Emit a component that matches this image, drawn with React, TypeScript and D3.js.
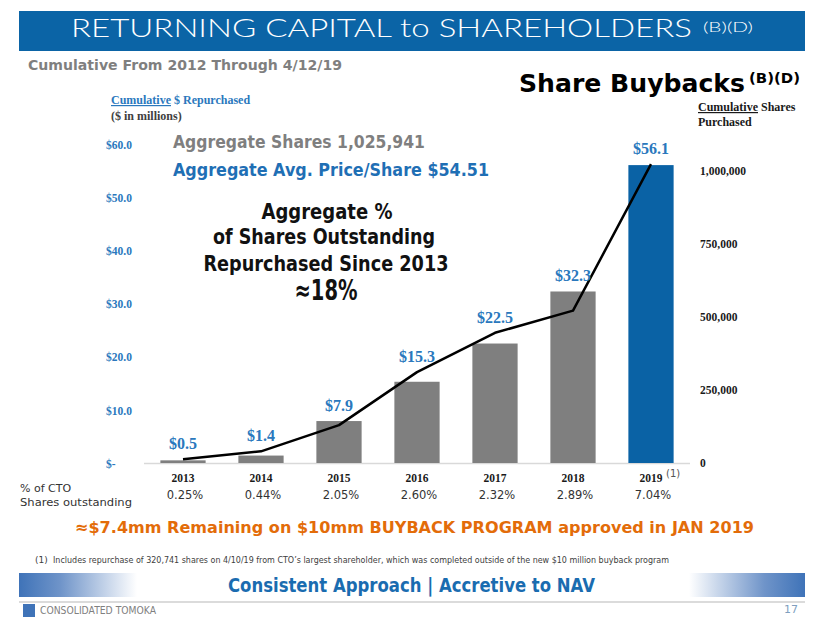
import React from "react";
import * as d3 from "d3";

const years = ["2013", "2014", "2015", "2016", "2017", "2018", "2019"];
const dollarsRepurchased = [0.5, 1.4, 7.9, 15.3, 22.5, 32.3, 56.1];
const cumulativeShares = [12500, 40000, 130000, 312000, 447000, 523000, 1025941];
const pctOutstanding = ["0.25%", "0.44%", "2.05%", "2.60%", "2.32%", "2.89%", "7.04%"];
const highlightYear = "2019";
const footnotedYear = "2019";
const leftTicks = [0, 10, 20, 30, 40, 50, 60];
const rightTicks = [0, 250000, 500000, 750000, 1000000];
const leftMax = 60;
const rightMax = 1100000;

const W = 824;
const H = 637;
const BLUE = "#0b64a6";
const LABEL_BLUE = "#2a78bd";
const GRAY_BAR = "#7f7f7f";
const SANS = "'DejaVu Sans', 'Open Sans', sans-serif";
const SERIF = "'Liberation Serif', 'Times New Roman', serif";

export default function App() {
  const x = d3.scaleBand<string>().domain(years).range([144, 690]).paddingInner(0.42).paddingOuter(0.21);
  const yL = d3.scaleLinear().domain([0, leftMax]).range([463, 144.4]);
  const yR = d3.scaleLinear().domain([0, rightMax]).range([463, 142.6]);
  const cx = (y: string) => (x(y) ?? 0) + x.bandwidth() / 2;
  const line = d3
    .line<number>()
    .x((_, i) => cx(years[i]))
    .y((d) => yR(d))(cumulativeShares);
  const fmtL = (v: number) => (v === 0 ? "$-" : `$${d3.format(".1f")(v)}`);
  const fmtR = d3.format(",");

  return (
    <svg width={W} height={H} style={{ position: "absolute", left: 0, top: 0, background: "#fff" }}>
      <defs>
        <linearGradient id="gl" x1="0" x2="1" y1="0" y2="0">
          <stop offset="0" stopColor="#3f73b8" />
          <stop offset="0.35" stopColor="#6f94c9" />
          <stop offset="1" stopColor="#ffffff" />
        </linearGradient>
        <linearGradient id="gr" x1="0" x2="1" y1="0" y2="0">
          <stop offset="0" stopColor="#ffffff" />
          <stop offset="0.65" stopColor="#6f94c9" />
          <stop offset="1" stopColor="#3f73b8" />
        </linearGradient>
      </defs>

      {/* title banner */}
      <rect x={19} y={11} width={786} height={40} fill={BLUE} />
      <text x={71} y={37} fill="#fff" fontFamily="Lato, 'DejaVu Sans', sans-serif" fontWeight={300} fontSize={26} textLength={621} lengthAdjust="spacingAndGlyphs">
        RETURNING CAPITAL to SHAREHOLDERS
      </text>
      <text x={703} y={32} fill="#fff" fontFamily="Lato, 'DejaVu Sans', sans-serif" fontWeight={300} fontSize={14} textLength={50} lengthAdjust="spacingAndGlyphs">
        (B)(D)
      </text>

      <text x={28} y={70} fill="#7f7f7f" fontFamily={SANS} fontWeight="bold" fontSize={14} textLength={314} lengthAdjust="spacingAndGlyphs">
        Cumulative From 2012 Through 4/12/19
      </text>
      <text x={519} y={92} fill="#000" fontFamily={SANS} fontWeight="bold" fontSize={24.5} textLength={226} lengthAdjust="spacingAndGlyphs">
        Share Buybacks
      </text>
      <text x={749} y={83} fill="#000" fontFamily={SANS} fontWeight="bold" fontSize={14} textLength={51} lengthAdjust="spacingAndGlyphs">
        (B)(D)
      </text>

      {/* left axis title */}
      <text x={111} y={104} fill={LABEL_BLUE} fontFamily={SERIF} fontWeight="bold" fontSize={12}>
        <tspan textDecoration="underline">Cumulative</tspan>
        <tspan> $ Repurchased</tspan>
      </text>
      <text x={111} y={120} fill="#404040" fontFamily={SERIF} fontWeight="bold" fontSize={12}>
        ($ in millions)
      </text>

      {/* right axis title */}
      <text x={698} y={111} fill="#1a1a1a" fontFamily={SERIF} fontWeight="bold" fontSize={12}>
        <tspan textDecoration="underline">Cumulative</tspan>
        <tspan> Shares</tspan>
      </text>
      <text x={698} y={126} fill="#1a1a1a" fontFamily={SERIF} fontWeight="bold" fontSize={12}>
        Purchased
      </text>

      {/* left ticks */}
      {leftTicks.map((t) => (
        <text key={t} x={106} y={yL(t) + 1} dy="0.32em" fill={LABEL_BLUE} fontFamily={SERIF} fontWeight="bold" fontSize={11.5}>
          {fmtL(t)}
        </text>
      ))}
      {/* right ticks */}
      {rightTicks.map((t) => (
        <text key={t} x={700} y={yR(t)} dy="0.32em" fill="#1a1a1a" fontFamily={SERIF} fontWeight="bold" fontSize={11.5}>
          {fmtR(t)}
        </text>
      ))}

      {/* baseline */}
      <line x1={144} x2={690} y1={yL(0) + 0.5} y2={yL(0) + 0.5} stroke="#d9d9d9" strokeWidth={1.5} />

      {/* bars */}
      {years.map((y, i) => (
        <rect
          key={y}
          x={x(y)}
          y={yL(dollarsRepurchased[i])}
          width={x.bandwidth()}
          height={yL(0) - yL(dollarsRepurchased[i])}
          fill={y === highlightYear ? "#0a62a5" : GRAY_BAR}
        />
      ))}

      {/* line */}
      <path d={line ?? ""} fill="none" stroke="#000" strokeWidth={2.5} strokeLinejoin="round" />

      {/* bar value labels: above the higher of bar top and line point */}
      {years.map((y, i) => (
        <text
          key={y}
          x={cx(y)}
          y={Math.min(yL(dollarsRepurchased[i]), yR(cumulativeShares[i])) - 10}
          textAnchor="middle"
          fill={LABEL_BLUE}
          fontFamily={SERIF}
          fontWeight="bold"
          fontSize={16}
        >
          {`$${dollarsRepurchased[i].toFixed(1)}`}
        </text>
      ))}

      {/* year labels */}
      {years.map((y) => (
        <text key={y} x={cx(y)} y={482} textAnchor="middle" fill="#1a1a1a" fontFamily={SERIF} fontWeight="bold" fontSize={11.5}>
          {y}
        </text>
      ))}
      <text x={cx(footnotedYear) + 15} y={477} fill="#555" fontFamily={SANS} fontSize={10}>
        (1)
      </text>

      {/* pct labels */}
      {years.map((y, i) => (
        <text key={y} x={cx(y) + 2} y={499} textAnchor="middle" fill="#333" fontFamily={SANS} fontSize={11.5}>
          {pctOutstanding[i]}
        </text>
      ))}
      <text x={20} y={492} fill="#333" fontFamily={SANS} fontSize={11}>
        % of CTO
      </text>
      <text x={20} y={506} fill="#333" fontFamily={SANS} fontSize={11} textLength={112} lengthAdjust="spacingAndGlyphs">
        Shares outstanding
      </text>

      {/* annotations */}
      <text x={173} y={148} fill="#7f7f7f" fontFamily={SANS} fontWeight="bold" fontSize={18} textLength={252} lengthAdjust="spacingAndGlyphs">
        Aggregate Shares 1,025,941
      </text>
      <text x={173} y={176} fill="#1f6fb5" fontFamily={SANS} fontWeight="bold" fontSize={18} textLength={316} lengthAdjust="spacingAndGlyphs">
        Aggregate Avg. Price/Share $54.51
      </text>
      <text x={327} y={219} textAnchor="middle" fill="#111" fontFamily={SANS} fontWeight="bold" fontSize={21} textLength={131} lengthAdjust="spacingAndGlyphs">
        Aggregate %
      </text>
      <text x={324} y={244} textAnchor="middle" fill="#111" fontFamily={SANS} fontWeight="bold" fontSize={21} textLength={222} lengthAdjust="spacingAndGlyphs">
        of Shares Outstanding
      </text>
      <text x={326} y={271} textAnchor="middle" fill="#111" fontFamily={SANS} fontWeight="bold" fontSize={21} textLength={245} lengthAdjust="spacingAndGlyphs">
        Repurchased Since 2013
      </text>
      <text x={326} y={300} textAnchor="middle" fill="#111" fontFamily={SANS} fontWeight="bold" fontSize={28} textLength={63} lengthAdjust="spacingAndGlyphs">
        ≈18%
      </text>

      {/* orange message */}
      <text x={75} y={533} fill="#e36c09" fontFamily={SANS} fontWeight="bold" fontSize={16.5} textLength={679} lengthAdjust="spacingAndGlyphs">
        ≈$7.4mm Remaining on $10mm BUYBACK PROGRAM approved in JAN 2019
      </text>

      {/* footnote */}
      <text x={35} y={563} fill="#404040" fontFamily={SANS} fontSize={9}>
        (1)
      </text>
      <text x={53} y={563} fill="#404040" fontFamily={SANS} fontSize={9} textLength={616} lengthAdjust="spacingAndGlyphs">
        Includes repurchase of 320,741 shares on 4/10/19 from CTO’s largest shareholder, which was completed outside of the new $10 million buyback program
      </text>

      {/* bottom banner */}
      <rect x={19} y={573} width={118} height={24} fill="url(#gl)" />
      <rect x={689} y={573} width={116} height={24} fill="url(#gr)" />
      <line x1={19} x2={805} y1={602} y2={602} stroke="#cfcfcf" strokeWidth={1.5} />
      <text x={228} y={592} fill="#1a6cb0" fontFamily={SANS} fontWeight="bold" fontSize={19} textLength={367} lengthAdjust="spacingAndGlyphs">
        Consistent Approach | Accretive to NAV
      </text>

      {/* logo */}
      <rect x={23} y={604} width={12} height={13} fill="#3f73b8" />
      <text x={40} y={614} fill="#808080" fontFamily={SANS} fontSize={11} textLength={116} lengthAdjust="spacingAndGlyphs">
        CONSOLIDATED TOMOKA
      </text>
      <text x={784} y={613} fill="#7f9fbf" fontFamily={SANS} fontSize={11}>
        17
      </text>
    </svg>
  );
}
